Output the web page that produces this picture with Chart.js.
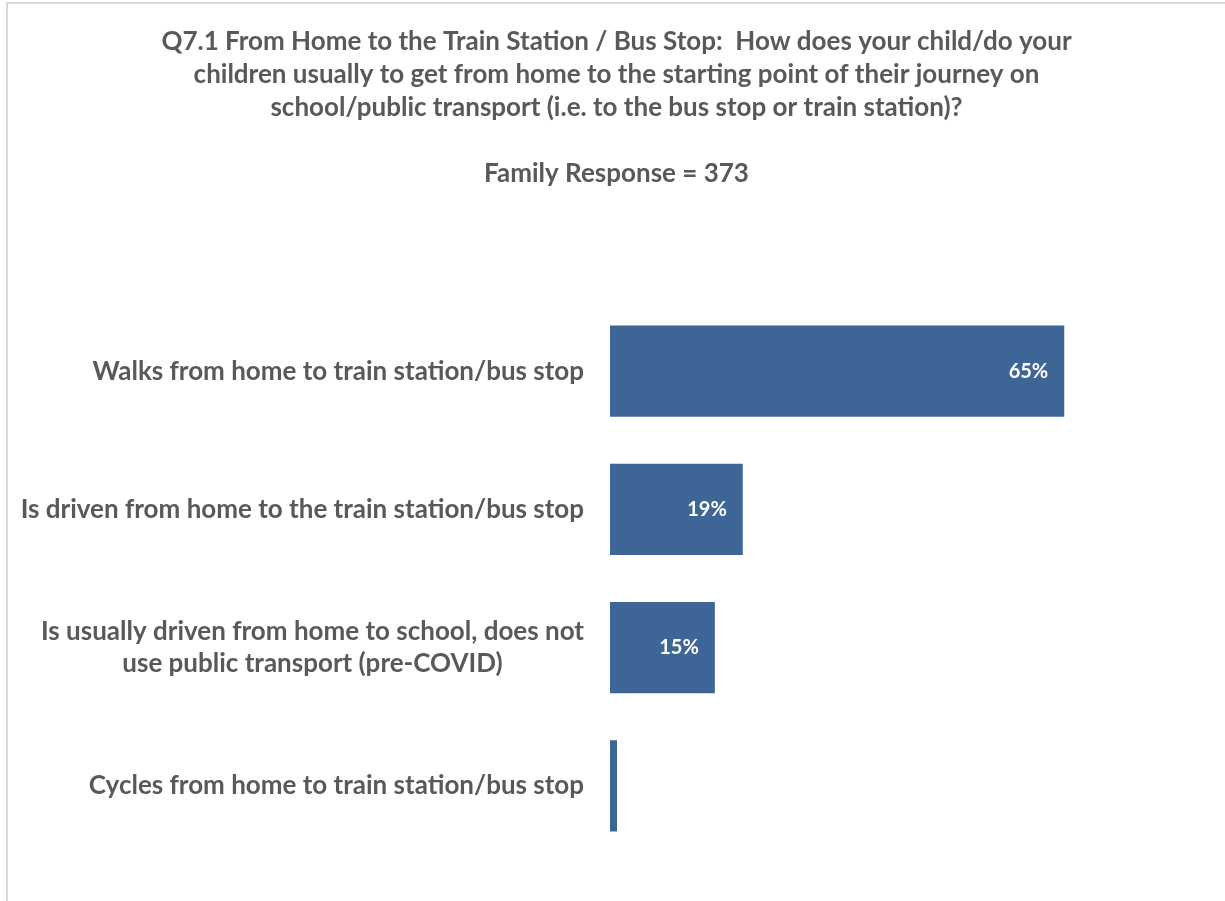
<!DOCTYPE html>
<html>
<head>
<meta charset="utf-8">
<title>Q7.1 From Home to the Train Station / Bus Stop</title>
<script src="https://cdn.jsdelivr.net/npm/chart.js@4.4.1/dist/chart.umd.min.js"></script>
<style>
  html, body { margin: 0; padding: 0; background: #fff; }
  #frame {
    position: absolute; left: 6px; top: 2px;
    width: 1217px; height: 897px;
    border-top: 2px solid #d9d9d9;
    border-left: 2px solid #d9d9d9;
  }
  canvas { display: block; }
</style>
</head>
<body>
<div id="frame"><canvas id="transportChart"></canvas></div>
<script>
// Answers (one array per label, one entry per line)
const categories = [
  ['Walks from home to train station/bus stop'],
  ['Is driven from home to the train station/bus stop'],
  ['Is usually driven from home to school, does not', 'use public transport (pre-COVID)'],
  ['Cycles from home to train station/bus stop']
];

// Share of families, in percent
const shares = [65, 19, 15, 1];

const titleLines = [
  'Q7.1 From Home to the Train Station / Bus Stop:  How does your child/do your',
  'children usually to get from home to the starting point of their journey on',
  'school/public transport (i.e. to the bus stop or train station)?'
];
const subtitleText = 'Family Response = 373';

const textGrey = '#595959';
const barBlue = '#3d6595';

Chart.defaults.font.family = 'Lato, "Open Sans", sans-serif';

// Category names drawn right of the axis, lines centred within the block
const categoryLabels = {
  id: 'categoryLabels',
  afterDraw(chart) {
    const ctx = chart.ctx;
    const yScale = chart.scales.y;
    const right = chart.chartArea.left - 26;
    const lineH = 32;
    ctx.save();
    ctx.font = 'bold 26px Lato';
    ctx.fillStyle = textGrey;
    ctx.textAlign = 'center';
    ctx.textBaseline = 'middle';
    categories.forEach(function(lines, i) {
      const y = yScale.getPixelForValue(i);
      const blockW = Math.max.apply(null, lines.map(l => ctx.measureText(l).width));
      const cx = right - blockW / 2;
      lines.forEach(function(line, j) {
        ctx.fillText(line, cx, y + (j - (lines.length - 1) / 2) * lineH);
      });
    });
    ctx.restore();
  }
};

// Percent labels just inside the end of each bar
const barValueLabels = {
  id: 'barValueLabels',
  afterDatasetsDraw(chart) {
    const ctx = chart.ctx;
    const meta = chart.getDatasetMeta(0);
    ctx.save();
    ctx.font = 'bold 20px Lato';
    ctx.fillStyle = '#ffffff';
    ctx.textAlign = 'right';
    ctx.textBaseline = 'middle';
    meta.data.forEach(function(bar, i) {
      if (shares[i] < 2) return;  // too thin to carry a label
      ctx.fillText(shares[i] + '%', bar.x - 16, bar.y);
    });
    ctx.restore();
  }
};

const ctx = document.getElementById('transportChart').getContext('2d');
const transportChart = new Chart(ctx, {
  type: 'bar',
  data: {
    labels: categories.map(c => c.join(' ')),
    datasets: [{
      data: shares,
      backgroundColor: barBlue,
      borderWidth: 0,
      barPercentage: 0.66,
      categoryPercentage: 1
    }]
  },
  options: {
    indexAxis: 'y',
    responsive: true,
    maintainAspectRatio: false,
    animation: false,
    layout: { padding: { top: 0, right: 0, bottom: 46, left: 0 } },
    plugins: {
      legend: { display: false },
      tooltip: { enabled: false },
      title: {
        display: true,
        text: titleLines,
        color: textGrey,
        font: { size: 26, weight: 'bold', lineHeight: '33px' },
        padding: { top: 21, bottom: 0 }
      },
      subtitle: {
        display: true,
        text: subtitleText,
        color: textGrey,
        font: { size: 26, weight: 'bold', lineHeight: '33px' },
        padding: { top: 33, bottom: 112 }
      }
    },
    scales: {
      x: {
        display: false,
        min: 0,
        max: 88
      },
      y: {
        display: true,
        grid: { display: false },
        border: { display: false },
        ticks: { display: false },
        afterFit(scale) { scale.width = 602; }
      }
    }
  },
  plugins: [categoryLabels, barValueLabels]
});
</script>
</body>
</html>
